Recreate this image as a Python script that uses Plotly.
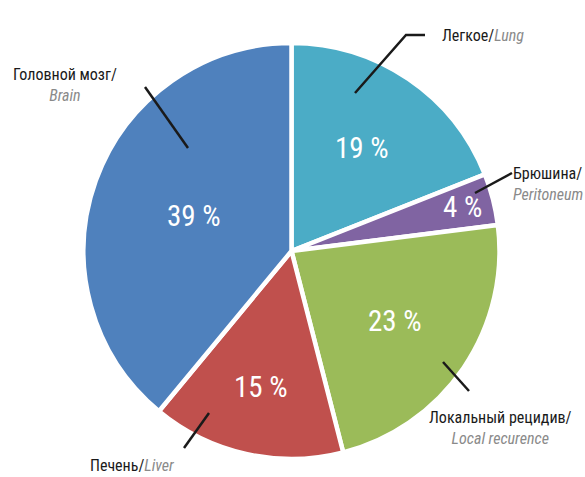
import math
import plotly.graph_objects as go

# Sites of metastasis, in clockwise order from 12 o'clock
labels_ru = ["Легкое", "Брюшина", "Локальный рецидив", "Печень", "Головной мозг"]
labels_en = ["Lung", "Peritoneum", "Local recurence", "Liver", "Brain"]
shares = [19, 4, 23, 15, 39]
colors = ["#4BACC6", "#8064A2", "#9BBB59", "#C0504D", "#4F81BD"]

W, H = 585, 477
CX, CY, R = 291.5, 251.0, 208.0  # pie centre and radius, px

# radial position of each percent label, as a fraction of the radius
label_r = [0.60, 0.85, 0.60, 0.67, 0.50]

FONT = "Liberation Sans Narrow, Roboto Condensed, DejaVu Sans Condensed, Roboto, sans-serif"
DARK = "#1a1a1a"
GREY = "#8a8a8a"


def px(x):
    return x / W


def py(y):
    return 1 - y / H


fig = go.Figure(
    go.Pie(
        labels=labels_en,
        values=shares,
        sort=False,
        direction="clockwise",
        rotation=0,
        marker=dict(colors=colors, line=dict(color="white", width=4.5)),
        textinfo="none",
        hoverinfo="label+percent",
        showlegend=False,
        domain=dict(x=[px(CX - R), px(CX + R)], y=[py(CY + R), py(CY - R)]),
    )
)

annotations = []
# percent labels placed along each slice's mid-angle
total = sum(shares)
cum = 0
for v, f in zip(shares, label_r):
    mid = (cum + v / 2) / total * 2 * math.pi
    cum += v
    x = CX + f * R * math.sin(mid)
    y = CY - f * R * math.cos(mid)
    annotations.append(dict(
        x=px(x), y=py(y), xref="paper", yref="paper", showarrow=False,
        text=f"{v} %", font=dict(family=FONT, size=29, color="white"),
        xanchor="center", yanchor="middle",
    ))


def cat_label(i, x, y, anchor, two_lines, align="center"):
    sep = "<br>" if two_lines else ""
    return dict(
        x=px(x), y=py(y), xref="paper", yref="paper", showarrow=False,
        text=f"{labels_ru[i]}/{sep}<i><span style='color:{GREY}'>{labels_en[i]}</span></i>",
        font=dict(family=FONT, size=16, color=DARK),
        xanchor=anchor, yanchor="middle", align=align,
    )


annotations += [
    cat_label(0, 440, 35, "left", False, "left"),
    cat_label(1, 511, 184, "left", True, "left"),
    cat_label(2, 500, 428, "center", True),
    cat_label(3, 88, 465, "left", False, "left"),
    cat_label(4, 65, 85, "center", True),
]

# leader lines (px coordinates)
leaders = [
    [(355, 93), (406, 35), (425, 35)],
    [(475, 193), (512, 173)],
    [(443, 362), (469, 391)],
    [(209, 413), (184, 448)],
    [(145, 87), (188, 148)],
]
shapes = []
for pts in leaders:
    path = "M " + " L ".join(f"{px(x)} {py(y)}" for x, y in pts)
    shapes.append(dict(type="path", xref="paper", yref="paper", path=path,
                       line=dict(color="#1a1a1a", width=2.5)))

fig.update_layout(
    width=W, height=H,
    margin=dict(l=0, r=0, t=0, b=0),
    paper_bgcolor="white", plot_bgcolor="white",
    annotations=annotations, shapes=shapes,
)

fig.write_html("out.html")
